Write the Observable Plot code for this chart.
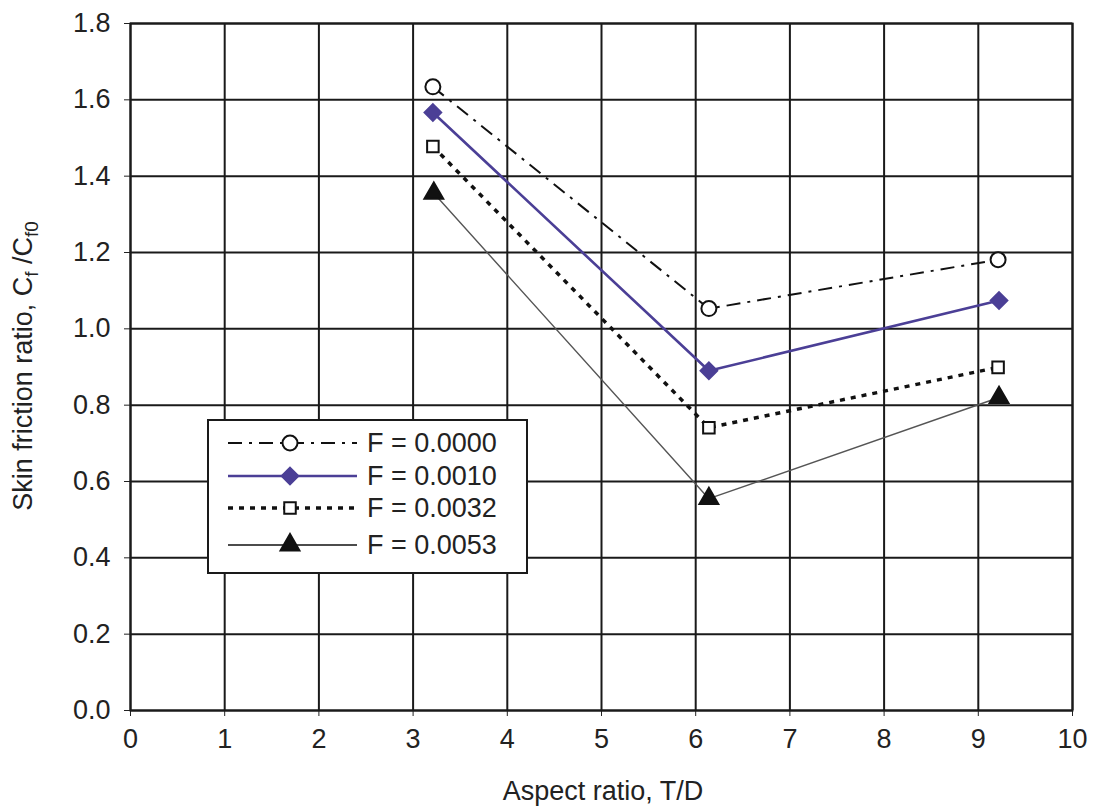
<!DOCTYPE html>
<html>
<head>
<meta charset="utf-8">
<script src="https://cdn.jsdelivr.net/npm/d3@7"></script>
<script src="https://cdn.jsdelivr.net/npm/@observablehq/plot@0.6"></script>
<style>
  html, body { margin: 0; padding: 0; background: #fff; }
  #chart { width: 1097px; height: 807px; }
</style>
</head>
<body>
<div id="chart"></div>
<script>
// ---- data ----
const xTicks = [0, 1, 2, 3, 4, 5, 6, 7, 8, 9, 10];
const yTicks = [0, 0.2, 0.4, 0.6, 0.8, 1.0, 1.2, 1.4, 1.6, 1.8];
const seriesLabels = ["F = 0.0000", "F = 0.0010", "F = 0.0032", "F = 0.0053"];
const xF0000 = [3.21, 6.14, 9.21];
const yF0000 = [1.634, 1.053, 1.181];
const xF0010 = [3.21, 6.14, 9.22];
const yF0010 = [1.567, 0.890, 1.074];
const xF0032 = [3.21, 6.14, 9.21];
const yF0032 = [1.478, 0.741, 0.899];
const xF0053 = [3.22, 6.14, 9.22];
const yF0053 = [1.355, 0.555, 0.820];
const xLabel = "Aspect ratio, T/D";
const yLabelParts = ["Skin friction ratio, C", "f", " /C", "f0"];

// ---- styles per series ----
const styles = [
  {stroke: "#111", strokeWidth: 2, dash: "14,7,3,7", symbol: "circle", r: 7.5, fill: "white", mstroke: "#111"},
  {stroke: "#4b3f96", strokeWidth: 2.6, dash: null, symbol: "diamond2", r: 7.5, fill: "#4b3f96", mstroke: "#4b3f96"},
  {stroke: "#111", strokeWidth: 3.5, dash: "5,6", symbol: "square", r: 6.5, fill: "white", mstroke: "#111"},
  {stroke: "#555", strokeWidth: 1.4, dash: null, symbol: "triangle", r: 7, fill: "#111", mstroke: "#111"}
];
const xs = [xF0000, xF0010, xF0032, xF0053];
const ys = [yF0000, yF0010, yF0032, yF0053];
const tables = xs.map((xv, i) => xv.map((x, j) => ({x, y: ys[i][j], series: seriesLabels[i]})));

const marks = [
  Plot.gridX(xTicks, {stroke: "#1a1a1a", strokeOpacity: 1, strokeWidth: 2}),
  Plot.gridY(yTicks, {stroke: "#1a1a1a", strokeOpacity: 1, strokeWidth: 2}),
  Plot.frame({stroke: "#1a1a1a", strokeWidth: 2})
];
tables.forEach((t, i) => {
  const s = styles[i];
  marks.push(Plot.line(t, {x: "x", y: "y", stroke: s.stroke, strokeWidth: s.strokeWidth,
    strokeDasharray: s.dash, strokeLinecap: "butt"}));
});
tables.forEach((t, i) => {
  const s = styles[i];
  marks.push(Plot.dot(t, {x: "x", y: "y", symbol: () => s.symbol, r: s.r, fill: s.fill,
    stroke: s.mstroke, strokeWidth: 2}));
});

const chart = Plot.plot({
  width: 1097,
  height: 807,
  marginLeft: 130,
  marginRight: 25,
  marginTop: 23,
  marginBottom: 97,
  style: {fontFamily: "'Liberation Sans', Arial, sans-serif", fontSize: "27px", color: "#222", background: "white"},
  x: {domain: [0, 10], ticks: xTicks, tickSize: 6, tickPadding: 12, label: null},
  y: {domain: [0, 1.8], ticks: yTicks, tickFormat: d3.format(".1f"), tickSize: 6, tickPadding: 14, label: null},
  marks
});
document.getElementById("chart").appendChild(chart);

// ---- axis titles & legend ----
const svg = d3.select(chart);
const font = "'Liberation Sans', Arial, sans-serif";

svg.append("text")
  .attr("x", 603).attr("y", 800)
  .attr("text-anchor", "middle")
  .attr("font-family", font).attr("font-size", 27).attr("fill", "#222")
  .text(xLabel);

const yl = svg.append("text")
  .attr("transform", "translate(32,366) rotate(-90)")
  .attr("text-anchor", "middle")
  .attr("font-family", font).attr("font-size", 27).attr("fill", "#222");
yl.append("tspan").text(yLabelParts[0]);
yl.append("tspan").attr("font-size", 19).attr("dy", 6).text(yLabelParts[1]);
yl.append("tspan").attr("dy", -6).text(yLabelParts[2]);
yl.append("tspan").attr("font-size", 19).attr("dy", 6).text(yLabelParts[3]);

const lg = svg.append("g");
lg.append("rect").attr("x", 208).attr("y", 420).attr("width", 319).attr("height", 153)
  .attr("fill", "white").attr("stroke", "#1a1a1a").attr("stroke-width", 2);
const rowY = [443, 476, 508, 545];
const symMap = {circle: d3.symbolCircle, diamond2: d3.symbolDiamond2, square: d3.symbolSquare, triangle: d3.symbolTriangle};
styles.forEach((s, i) => {
  const y = rowY[i];
  lg.append("line").attr("x1", 228).attr("x2", 357).attr("y1", y).attr("y2", y)
    .attr("stroke", s.stroke === "#555" ? "#111" : s.stroke).attr("stroke-width", s.strokeWidth)
    .attr("stroke-dasharray", s.dash);
  lg.append("path").attr("transform", `translate(290,${y})`)
    .attr("d", d3.symbol(symMap[s.symbol], Math.PI * s.r * s.r)())
    .attr("fill", s.fill).attr("stroke", s.mstroke).attr("stroke-width", 2);
  lg.append("text").attr("x", 367).attr("y", y).attr("dy", "0.35em")
    .attr("text-anchor", "start")
    .attr("font-family", font).attr("font-size", 27).attr("fill", "#222")
    .text(seriesLabels[i]);
});
</script>
</body>
</html>
